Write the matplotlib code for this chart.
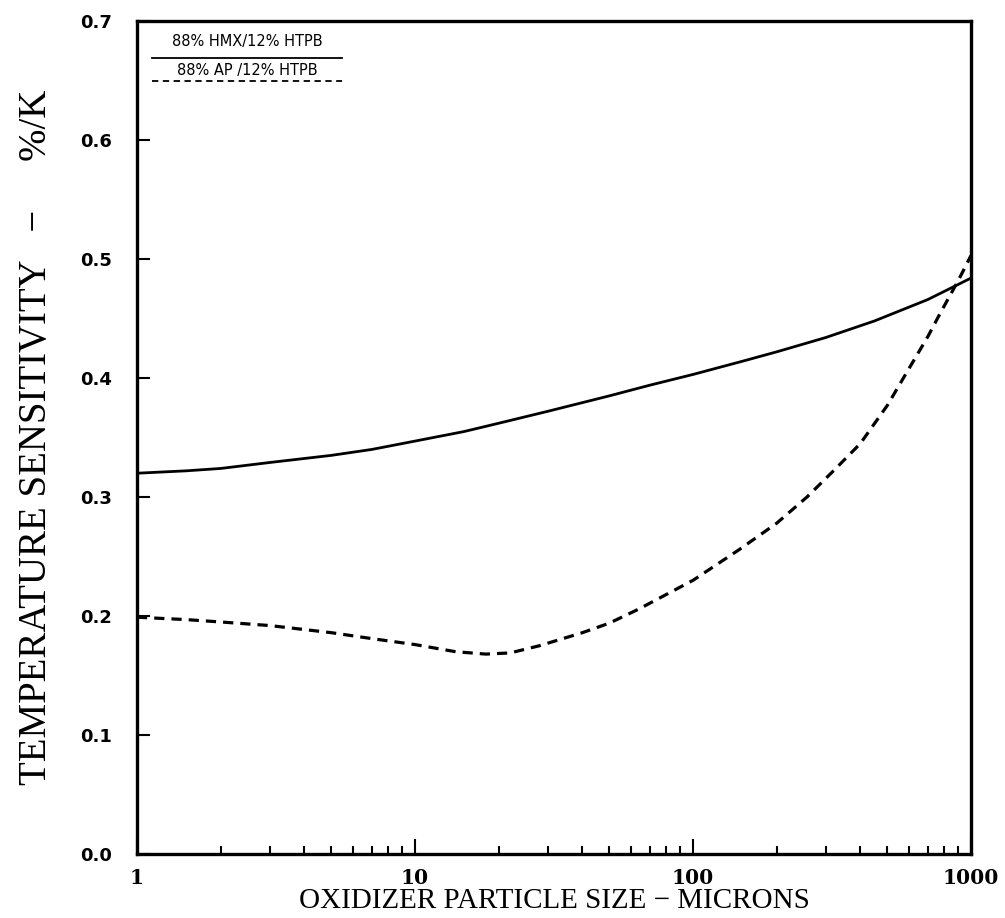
import matplotlib
matplotlib.use("Agg")
import matplotlib.pyplot as plt
from matplotlib.ticker import FixedLocator, NullFormatter

# Oxidizer particle size (microns) and temperature sensitivity (%/K)
hmx_size = [1, 1.5, 2, 3, 5, 7, 10, 15, 20, 30, 50, 70, 100, 150, 200, 300, 450, 700, 1000]
hmx_sens = [0.320, 0.322, 0.324, 0.329, 0.335, 0.340, 0.347, 0.355, 0.362, 0.372,
            0.385, 0.394, 0.403, 0.414, 0.422, 0.434, 0.448, 0.466, 0.484]

ap_size = [1, 1.5, 2, 3, 5, 7, 10, 14, 18, 22, 28, 40, 50, 64, 100, 147, 200, 257,
           320, 400, 500, 588, 700, 777, 900, 1000]
ap_sens = [0.199, 0.197, 0.195, 0.192, 0.186, 0.181, 0.176, 0.170, 0.168, 0.169,
           0.175, 0.186, 0.194, 0.206, 0.230, 0.256, 0.278, 0.300, 0.322, 0.345,
           0.377, 0.405, 0.435, 0.455, 0.482, 0.503]

legend_labels = ["88% HMX/12% HTPB", "88% AP /12% HTPB"]
x_ticks = [1, 10, 100, 1000]
x_ticklabels = ["1", "10", "100", "1000"]
y_ticks = [0.0, 0.1, 0.2, 0.3, 0.4, 0.5, 0.6, 0.7]

fig = plt.figure(figsize=(10.05, 9.18), dpi=100)
ax = fig.add_axes([0.1363, 0.0697, 0.8299, 0.9074])

ax.plot(hmx_size, hmx_sens, color="black", lw=2.0, solid_capstyle="butt")
ax.plot(ap_size, ap_sens, color="black", lw=2.3, linestyle=(0, (3.2, 2.2)))

ax.set_xscale("log")
ax.set_xlim(1, 1000)
ax.set_ylim(0.0, 0.7)

ax.xaxis.set_major_locator(FixedLocator(x_ticks))
ax.set_xticklabels(x_ticklabels)
ax.xaxis.set_minor_locator(FixedLocator(
    [m * d for d in (1, 10, 100) for m in range(2, 10)]))
ax.xaxis.set_minor_formatter(NullFormatter())
ax.set_yticks(y_ticks)
ax.set_yticklabels([f"{v:.1f}" for v in y_ticks])

ax.tick_params(axis="both", which="both", direction="in", top=False, right=False,
               color="black", width=1.5)
ax.tick_params(axis="x", which="major", length=11, pad=10)
ax.tick_params(axis="x", which="minor", length=6)
ax.tick_params(axis="y", which="major", length=9, pad=18)

for lab in ax.get_xticklabels():
    lab.set_fontfamily("DejaVu Serif")
    lab.set_fontweight("bold")
    lab.set_fontsize(14.5)
for lab in ax.get_yticklabels():
    lab.set_fontfamily("DejaVu Sans")
    lab.set_fontweight("bold")
    lab.set_fontsize(13)

for sp in ax.spines.values():
    sp.set_linewidth(2.4)
    sp.set_color("black")

ax.set_xlabel("OXIDIZER PARTICLE SIZE \u2212 MICRONS", fontfamily="Liberation Serif",
              fontsize=20.9)
ax.xaxis.set_label_coords(0.5, -0.041)
ax.set_ylabel("TEMPERATURE SENSITIVITY   \u2212     %/K", fontfamily="Liberation Serif",
              fontsize=28)
ax.yaxis.set_label_coords(-0.098, 0.5)

# Legend key: text label above a line sample for each series
lx0, lx1 = 0.018, 0.246
ax.text((lx0 + lx1) / 2, 0.976, legend_labels[0], transform=ax.transAxes,
        ha="center", va="center", fontsize=10.5, fontfamily="DejaVu Sans")
ax.plot([lx0, lx1], [0.9556, 0.9556], transform=ax.transAxes, color="black", lw=1.3)
ax.text((lx0 + lx1) / 2, 0.9412, legend_labels[1], transform=ax.transAxes,
        ha="center", va="center", fontsize=10.5, fontfamily="DejaVu Sans")
ax.plot([lx0, lx1], [0.928, 0.928], transform=ax.transAxes, color="black", lw=1.3,
        linestyle=(0, (3.5, 2.5)))

fig.savefig("out.png", dpi=100)
